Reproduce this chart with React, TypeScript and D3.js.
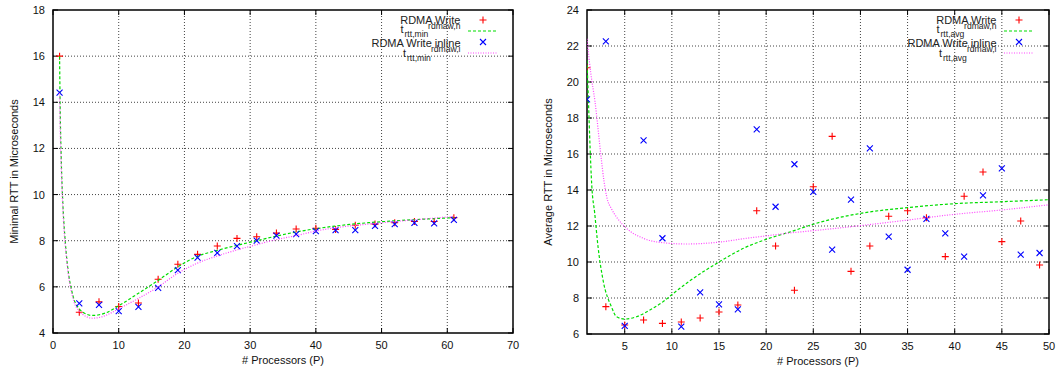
import React from "react";
import * as d3 from "d3";

// ---------- data ----------
const procMin = [1, 4, 7, 10, 13, 16, 19, 22, 25, 28, 31, 34, 37, 40, 43, 46, 49, 52, 55, 58, 61];
const minWrite = [16.0, 4.9, 5.35, 5.15, 5.3, 6.33, 6.98, 7.41, 7.77, 8.1, 8.17, 8.33, 8.51, 8.54, 8.49, 8.67, 8.72, 8.78, 8.83, 8.83, 9.0];
const minInline = [14.42, 5.28, 5.22, 4.95, 5.13, 5.96, 6.73, 7.27, 7.47, 7.77, 8.0, 8.22, 8.29, 8.42, 8.46, 8.46, 8.64, 8.72, 8.77, 8.75, 8.9];

const fitMinNX = [1, 1.1, 1.25, 1.5, 1.8, 2.0, 2.4, 2.8, 3.2, 4, 5, 6, 7, 8, 10, 13, 16, 19, 22, 25, 28, 31, 34, 37, 40, 44, 48, 52, 56, 61];
const fitMinNY = [16.0, 13.6, 11.6, 9.6, 8.2, 7.5, 6.5, 5.9, 5.45, 5.05, 4.83, 4.76, 4.79, 4.87, 5.18, 5.72, 6.28, 6.87, 7.33, 7.58, 7.8, 8.0, 8.2, 8.38, 8.52, 8.67, 8.78, 8.86, 8.93, 9.0];
const fitMinIX = [1, 1.1, 1.25, 1.5, 1.8, 2.0, 2.4, 2.8, 3.2, 4, 5, 6, 7, 8, 10, 13, 16, 19, 22, 25, 28, 31, 34, 37, 40, 44, 48, 52, 56, 61];
const fitMinIY = [14.4, 12.8, 11.2, 9.4, 8.0, 7.4, 6.4, 5.8, 5.35, 4.95, 4.72, 4.64, 4.67, 4.76, 5.05, 5.5, 6.0, 6.59, 7.03, 7.34, 7.6, 7.83, 8.05, 8.22, 8.42, 8.6, 8.72, 8.83, 8.93, 9.05];

const procAvg = [1, 3, 5, 7, 9, 11, 13, 15, 17, 19, 21, 23, 25, 27, 29, 31, 33, 35, 37, 39, 41, 43, 45, 47, 49];
const avgWrite = [20.79, 7.52, 6.5, 6.78, 6.59, 6.67, 6.89, 7.22, 7.61, 12.85, 10.89, 8.43, 14.18, 16.98, 9.48, 10.89, 12.54, 12.85, 12.46, 10.3, 13.65, 15.0, 11.13, 12.28, 9.83];
const avgInline = [19.04, 22.26, 6.45, 16.76, 11.32, 6.41, 8.31, 7.65, 7.37, 17.37, 13.07, 15.43, 13.89, 10.69, 13.46, 16.31, 11.41, 9.57, 12.39, 11.59, 10.3, 13.7, 15.2, 10.41, 10.5];

const fitAvgNX = [1, 1.15, 1.33, 1.5, 1.82, 2.17, 2.7, 3.6, 4.13, 5.0, 6.25, 7.67, 9.09, 10.15, 11.9, 15, 17.6, 20, 22.6, 25, 30, 35, 40, 45, 50];
const fitAvgNY = [21.2, 19.0, 16.3, 14.3, 12.7, 10.85, 9.0, 7.5, 6.96, 6.83, 6.96, 7.33, 7.8, 8.25, 8.95, 10.0, 10.76, 11.26, 11.68, 12.1, 12.7, 13.02, 13.24, 13.35, 13.46];
const fitAvgIX = [1, 1.4, 1.85, 2.5, 2.8, 3.1, 3.6, 4.13, 5.19, 6.96, 9.09, 11.57, 15.1, 17.96, 20, 22.6, 25, 30, 35, 40, 45, 50];
const fitAvgIY = [22.4, 20.5, 18.9, 15.8, 14.5, 13.6, 12.95, 12.5, 11.87, 11.32, 11.07, 11.0, 11.11, 11.32, 11.45, 11.62, 11.74, 12.02, 12.33, 12.65, 12.89, 13.18];

const minXTicks = [0, 10, 20, 30, 40, 50, 60, 70];
const minYTicks = [4, 6, 8, 10, 12, 14, 16, 18];
const avgXTicks = [5, 10, 15, 20, 25, 30, 35, 40, 45, 50];
const avgYTicks = [6, 8, 10, 12, 14, 16, 18, 20, 22, 24];

const seriesNames = ["RDMA Write", "RDMA Write inline"];
const seriesSubs = ["rdmaw,n", "rdmaw,i"];

// ---------- style ----------
const FONT = "'Liberation Sans', Arial, Helvetica, sans-serif";
const RED = "#ff0000";
const BLUE = "#0000ff";
const GREEN = "#00dd00";
const MAGENTA = "#ff44ff";

type PanelProps = {
  id: string;
  xDomain: [number, number];
  yDomain: [number, number];
  xRange: [number, number];
  yRange: [number, number];
  xTicks: number[];
  yTicks: number[];
  px: number[];
  w: number[];
  inl: number[];
  fnx: number[];
  fny: number[];
  fix: number[];
  fiy: number[];
  yLabel: string;
  fitSub: string;
};

function Plus({ x, y }: { x: number; y: number }) {
  return <path d={`M${x - 3.5},${y}H${x + 3.5}M${x},${y - 3.5}V${y + 3.5}`} stroke={RED} strokeWidth={1.1} fill="none" />;
}
function Cross({ x, y }: { x: number; y: number }) {
  return <path d={`M${x - 3},${y - 3}L${x + 3},${y + 3}M${x - 3},${y + 3}L${x + 3},${y - 3}`} stroke={BLUE} strokeWidth={1.1} fill="none" />;
}

function Panel(p: PanelProps) {
  const x = d3.scaleLinear().domain(p.xDomain).range(p.xRange);
  const y = d3.scaleLinear().domain(p.yDomain).range(p.yRange);
  const [L, R] = p.xRange;
  const [B, T] = p.yRange;
  const line = d3
    .line<[number, number]>()
    .x((d) => x(d[0]))
    .y((d) => y(d[1]))
    .curve(d3.curveMonotoneX);
  const fitN = line(p.fnx.map((v, i) => [v, p.fny[i]] as [number, number])) || "";
  const fitI = line(p.fix.map((v, i) => [v, p.fiy[i]] as [number, number])) || "";
  const tick = 5;
  const cx = (L + R) / 2;
  const cy = (B + T) / 2;
  return (
    <g fontFamily={FONT}>
      <defs>
        <clipPath id={p.id}>
          <rect x={L} y={T} width={R - L} height={B - T} />
        </clipPath>
      </defs>
      {/* grid */}
      {p.xTicks
        .filter((t) => x(t) > L + 0.5 && x(t) < R - 0.5)
        .map((t) => (
          <line key={"gx" + t} x1={x(t)} x2={x(t)} y1={T} y2={B} stroke="#444" strokeWidth={1} strokeDasharray="1,2" />
        ))}
      {p.yTicks
        .filter((t) => y(t) < B - 0.5 && y(t) > T + 0.5)
        .map((t) => (
          <line key={"gy" + t} x1={L} x2={R} y1={y(t)} y2={y(t)} stroke="#444" strokeWidth={1} strokeDasharray="1,2" />
        ))}
      {/* ticks */}
      {p.xTicks.map((t) => (
        <g key={"tx" + t}>
          <line x1={x(t)} x2={x(t)} y1={B} y2={B - tick} stroke="#000" />
          <line x1={x(t)} x2={x(t)} y1={T} y2={T + tick} stroke="#000" />
          <text x={x(t)} y={B + 16} fontSize={11} textAnchor="middle" fill="#111">
            {t}
          </text>
        </g>
      ))}
      {p.yTicks.map((t) => (
        <g key={"ty" + t}>
          <line x1={L} x2={L + tick} y1={y(t)} y2={y(t)} stroke="#000" />
          <line x1={R} x2={R - tick} y1={y(t)} y2={y(t)} stroke="#000" />
          <text x={L - 8} y={y(t) + 4} fontSize={11} textAnchor="end" fill="#111">
            {t}
          </text>
        </g>
      ))}
      {/* frame */}
      <rect x={L} y={T} width={R - L} height={B - T} fill="none" stroke="#000" strokeWidth={1.5} />
      {/* labels */}
      <text x={cx} y={B + 31} fontSize={11} textAnchor="middle" fill="#111">
        # Processors (P)
      </text>
      <text transform={`translate(${L - 35},${cy}) rotate(-90)`} fontSize={11} textAnchor="middle" fill="#111">
        {p.yLabel}
      </text>
      {/* data */}
      <g clipPath={`url(#${p.id})`}>
        {p.px.map((v, i) => (
          <Plus key={"w" + i} x={x(v)} y={y(p.w[i])} />
        ))}
        <path d={fitN} fill="none" stroke={GREEN} strokeWidth={1.2} strokeDasharray="3,2" />
        {p.px.map((v, i) => (
          <Cross key={"i" + i} x={x(v)} y={y(p.inl[i])} />
        ))}
        <path d={fitI} fill="none" stroke={MAGENTA} strokeWidth={1.2} strokeDasharray="1,1.5" />
      </g>
      {/* legend */}
      <g fill="#222">
        <text x={R - 52.5} y={24} fontSize={11} textAnchor="end">{seriesNames[0]}</text>
        <text x={R - 52.5} y={29} fontSize={8.6} textAnchor="end">{seriesSubs[0]}</text>
        <text x={R - 112.5} y={33} fontSize={11}>t</text>
        <text x={R - 108.5} y={37} fontSize={8.6}>{p.fitSub}</text>
        <text x={R - 52.5} y={47} fontSize={11} textAnchor="end">{seriesNames[1]}</text>
        <text x={R - 52.5} y={52} fontSize={8.6} textAnchor="end">{seriesSubs[1]}</text>
        <text x={R - 110} y={57} fontSize={11}>t</text>
        <text x={R - 106} y={60.5} fontSize={8.6}>{p.fitSub}</text>
      </g>
      <Plus x={R - 30} y={20} />
      <line x1={R - 45} x2={R - 15} y1={31} y2={31} stroke={GREEN} strokeWidth={1.2} strokeDasharray="3,2" />
      <Cross x={R - 30} y={42} />
      <line x1={R - 45} x2={R - 15} y1={53} y2={53} stroke={MAGENTA} strokeWidth={1.2} strokeDasharray="1,1.5" />
    </g>
  );
}

export default function App() {
  return (
    <svg width={1058} height={371} style={{ position: "absolute", left: 0, top: 0, display: "block", background: "#fff" }}>
      <rect width={1058} height={371} fill="#fff" />
      <Panel
        id="clipMin"
        xDomain={[0, 70]}
        yDomain={[4, 18]}
        xRange={[53, 513]}
        yRange={[333, 10]}
        xTicks={minXTicks}
        yTicks={minYTicks}
        px={procMin}
        w={minWrite}
        inl={minInline}
        fnx={fitMinNX}
        fny={fitMinNY}
        fix={fitMinIX}
        fiy={fitMinIY}
        yLabel="Minimal RTT in Microseconds"
        fitSub="rtt,min"
      />
      <Panel
        id="clipAvg"
        xDomain={[1, 50]}
        yDomain={[6, 24]}
        xRange={[587, 1049]}
        yRange={[334, 10]}
        xTicks={avgXTicks}
        yTicks={avgYTicks}
        px={procAvg}
        w={avgWrite}
        inl={avgInline}
        fnx={fitAvgNX}
        fny={fitAvgNY}
        fix={fitAvgIX}
        fiy={fitAvgIY}
        yLabel="Average RTT in Microseconds"
        fitSub="rtt,avg"
      />
    </svg>
  );
}
